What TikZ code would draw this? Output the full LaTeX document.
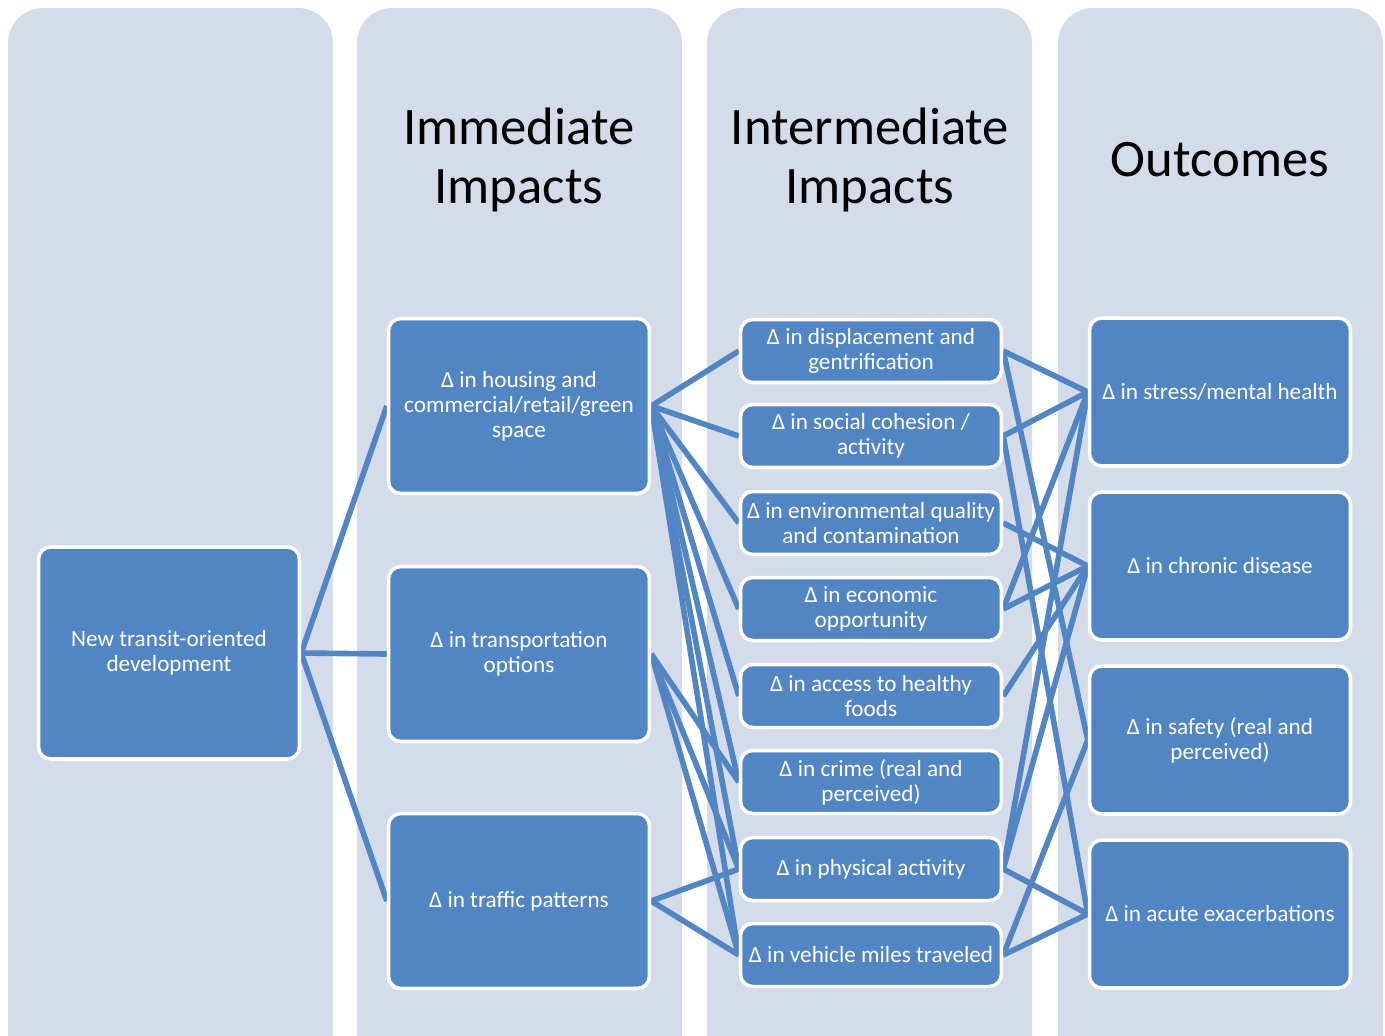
\documentclass[tikz,border=0pt]{standalone}
\usepackage{fontspec}
\setmainfont{Carlito}
\usetikzlibrary{backgrounds}

\definecolor{colgrey}{HTML}{D5DCE9}
\definecolor{boxblue}{HTML}{5285C3}

\begin{document}
\begin{tikzpicture}[x=0.02cm, y=-0.02cm,
	every node/.style={font=\fontsize{13.2}{14.2}\selectfont, text=white, align=center},
	box/.style={rectangle, rounded corners=7pt, fill=boxblue, draw=white, line width=2pt, minimum width=5.22cm},
	small/.style={box, minimum height=1.26cm},
	tall/.style={box, minimum height=3.5cm},
	outcome/.style={box, minimum height=2.96cm},
	heading/.style={font=\fontsize{30}{34}\selectfont, text=black},
	link/.style={draw=boxblue, line width=3.2pt}]
			\clip (0,0) rectangle (1385,1035);
			
			% columns
			\begin{scope}[on background layer]
			\foreach \x in {8,357,707,1058}
				\fill[colgrey, rounded corners=0.7cm] (\x,8) rectangle (\x+325,1080);
			\end{scope}
			
			\node[heading] (imm) at (519,160) {Immediate\\Impacts};
			\node[heading] (inter) at (870,160) {Intermediate\\Impacts};
			\node[heading] (out) at (1220,160) {Outcomes};
			
			\node[box, minimum height=4.24cm] (tod) at (169,653) {New transit-oriented\\development};
			
			\node[tall] (hous) at (519,406) {Δ in housing and\\commercial/retail/green\\space};
			\node[tall] (trans) at (519,654) {Δ in transportation\\options};
			\node[tall] (traf) at (519,901) {Δ in traffic patterns};
			
			\node[small] (disp) at (871,351) {Δ in displacement and\\gentrification};
			\node[small] (soc) at (871,436) {Δ in social cohesion /\\activity};
			\node[small] (env) at (871,523) {Δ in environmental quality\\and contamination};
			\node[small] (econ) at (871,609) {Δ in economic\\opportunity};
			\node[small] (food) at (871,696) {Δ in access to healthy\\foods};
			\node[small] (crime) at (871,782) {Δ in crime (real and\\perceived)};
			\node[small] (phys) at (871,869) {Δ in physical activity};
			\node[small] (vmt) at (871,955) {Δ in vehicle miles traveled};
			
			\node[outcome] (stress) at (1220,392) {Δ in stress/mental health};
			\node[outcome] (chron) at (1220,566) {Δ in chronic disease};
			\node[outcome] (safe) at (1220,740) {Δ in safety (real and\\perceived)};
			\node[outcome] (acute) at (1220,914) {Δ in acute exacerbations};
			
			\begin{scope}[on background layer]
			\foreach \t in {hous,trans,traf}
				\path (tod.east) edge[link] (\t.west);
			\foreach \t in {disp,soc,env,econ,food,crime,phys,vmt}
				\path (hous.east) edge[link] (\t.west);
			\foreach \t in {crime,phys,vmt}
				\path (trans.east) edge[link] (\t.west);
			\foreach \t in {phys,vmt}
				\path (traf.east) edge[link] (\t.west);
			
			\path (disp.east) edge[link] (stress.west);
			\path (disp.east) edge[link] (safe.west);
			\path (soc.east) edge[link] (stress.west);
			\path (soc.east) edge[link] (acute.west);
			\path (env.east) edge[link] (chron.west);
			\path (econ.east) edge[link] (stress.west);
			\path (econ.east) edge[link] (chron.west);
			\path (food.east) edge[link] (chron.west);
			\path (phys.east) edge[link] (stress.west);
			\path (phys.east) edge[link] (chron.west);
			\path (phys.east) edge[link] (acute.west);
			\path (vmt.east) edge[link] (safe.west);
			\path (vmt.east) edge[link] (acute.west);
			\end{scope}
			\end{tikzpicture}
\end{document}
